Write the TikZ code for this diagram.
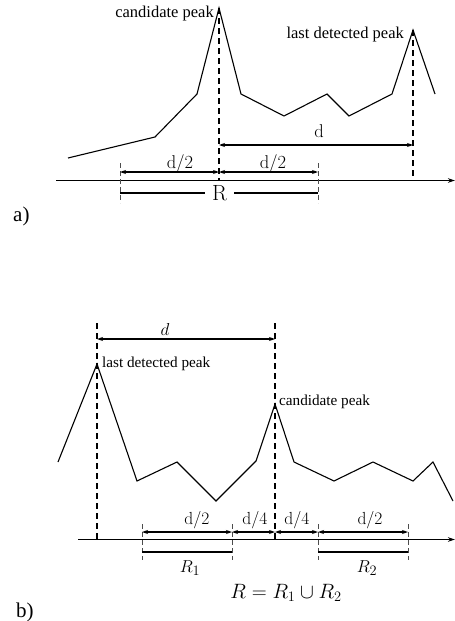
\documentclass[tikz,border=0pt]{standalone}
\usepackage{fontspec}
\newfontfamily\tm{Liberation Serif}
\usetikzlibrary{arrows.meta}
\tikzset{
  sigline/.style={line width=1.1pt, line join=miter},
  axline/.style={line width=1.4pt, -{Stealth[length=7pt,width=4.5pt]}},
  vdashline/.style={line width=1.4pt, dash pattern=on 6pt off 4pt},
  tickline/.style={line width=1pt, dash pattern=on 5pt off 3pt, black!70},
  dimline/.style={line width=1.3pt, {Stealth[length=6pt,width=4pt]}-{Stealth[length=6pt,width=4pt]}},
  rline/.style={line width=1.3pt},
  txa/.style={font=\tm\fontsize{16.5}{19}\selectfont, inner sep=0pt},
  txb/.style={font=\tm\fontsize{15.2}{18}\selectfont, inner sep=0pt},
  cmtext/.style={font=\fontsize{18.5}{22}\selectfont, inner sep=0pt},
  cmsmall/.style={font=\fontsize{17.5}{21}\selectfont, inner sep=0pt},
  lablabel/.style={font=\tm\fontsize{21}{24}\selectfont, inner sep=0pt},
}
\begin{document}
\begin{tikzpicture}[x=1pt,y=-1pt]
\useasboundingbox (0,0) rectangle (455,621);
% ---------------- panel a ----------------
\coordinate (aC) at (219,8);
\coordinate (aL) at (413,30);
\draw[sigline] (68,158) -- (155,137) -- (197,94) -- (aC) -- (241,94) -- (284,116) -- (327,94) -- (349,116) -- (392,94) -- (aL) -- (435,94);
\coordinate (aAx0) at (56,180.5);
\coordinate (aAx1) at (455,180.5);
\draw[axline] (aAx0) -- (aAx1);
\coordinate (aCb) at (219,180.5);
\coordinate (aLb) at (413,180.5);
\draw[vdashline] (aC) -- (aCb);
\draw[vdashline] (aL) -- (aLb);
\draw[tickline] (120,163) -- (120,203);
\draw[tickline] (318,163) -- (318,203);
\coordinate (ad1) at (219,145);
\coordinate (ad2) at (413,145);
\draw[dimline] (ad1) -- (ad2);
\coordinate (ah0) at (120,172);
\coordinate (ah1) at (219,172);
\coordinate (ah2) at (318,172);
\draw[dimline] (ah0) -- (ah1);
\draw[dimline] (ah1) -- (ah2);
\draw[rline] (120,193) -- (205,193);
\draw[rline] (234,193) -- (318,193);
\node[txa, anchor=base east] (candA) at (214,17) {candidate peak};
\node[txa, anchor=base east] (lastA) at (404,38) {last detected peak};
\node[cmtext, anchor=base] (dA) at (319,137) {d};
\node[cmtext, anchor=base] (h1A) at (180,168) {d/2};
\node[cmtext, anchor=base] (h2A) at (273,168) {d/2};
\node[font=\fontsize{22}{26}\selectfont, inner sep=0pt, anchor=base] (RA) at (219.5,200.5) {R};
\node[lablabel, anchor=base west] (la) at (13,221) {a)};
% ---------------- panel b ----------------
\coordinate (bL) at (97,364);
\coordinate (bC) at (275,404);
\draw[sigline] (58,462) -- (bL) -- (137,481) -- (177,462) -- (216,501) -- (256,461) -- (bC) -- (294,462) -- (334,481) -- (373,462) -- (413,481) -- (433,462) -- (453,501);
\coordinate (bAx0) at (78,539.5);
\coordinate (bAx1) at (455,539.5);
\draw[axline] (bAx0) -- (bAx1);
\draw[vdashline] (97,323) -- (97,540);
\draw[vdashline] (275,323) -- (275,540);
\coordinate (bd1) at (97,339);
\coordinate (bd2) at (275,339);
\draw[dimline] (bd1) -- (bd2);
\foreach \x in {142,232,318,408} \draw[tickline] (\x,524) -- (\x,560);
\coordinate (bq0) at (142,532);
\coordinate (bq1) at (232,532);
\coordinate (bq2) at (275,532);
\coordinate (bq3) at (318,532);
\coordinate (bq4) at (408,532);
\draw[dimline] (bq0) -- (bq1);
\draw[dimline] (bq1) -- (bq2);
\draw[dimline] (bq2) -- (bq3);
\draw[dimline] (bq3) -- (bq4);
\draw[rline] (142,552) -- (232,552);
\draw[rline] (318,552) -- (408,552);
\node[cmtext, anchor=base] (dB) at (165,335) {$d$};
\node[txb, anchor=base west] (lastB) at (102,367) {last detected peak};
\node[txb, anchor=base west] (candB) at (279,405) {candidate peak};
\node[cmsmall, anchor=base] (q1) at (197,524) {d/2};
\node[cmsmall, anchor=base] (q2) at (255,524) {d/4};
\node[cmsmall, anchor=base] (q3) at (297,524) {d/4};
\node[cmsmall, anchor=base] (q4) at (370,524) {d/2};
\node[font=\fontsize{19}{22}\selectfont, inner sep=0pt, anchor=base] (R1) at (190,572) {$R_1$};
\node[font=\fontsize{19}{22}\selectfont, inner sep=0pt, anchor=base] (R2) at (367,572) {$R_2$};
\node[font=\fontsize{20}{24}\selectfont, inner sep=0pt, anchor=base] (RR) at (286,598) {$R = R_1 \cup R_2$};
\node[lablabel, anchor=base west] (lb) at (16,617) {b)};
\end{tikzpicture}
\end{document}
